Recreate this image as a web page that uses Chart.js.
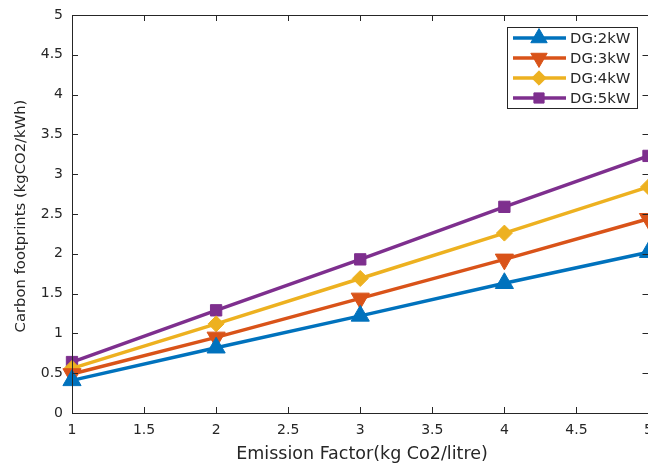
<!DOCTYPE html>
<html>
<head>
<meta charset="utf-8">
<title>Carbon footprints vs emission factor</title>
<script src="https://cdn.jsdelivr.net/npm/chart.js@4.4.0/dist/chart.umd.min.js"></script>
<style>
  html, body { margin: 0; padding: 0; background: #fff; overflow: hidden; }
  #wrap { position: relative; width: 660px; height: 463px; }
</style>
</head>
<body>
<div id="wrap"><canvas id="chart"></canvas></div>
<script>
// Data
const emissionFactor = [1, 2, 3, 4, 5];
const dg2kW = [0.41, 0.82, 1.22, 1.63, 2.02];
const dg3kW = [0.49, 0.95, 1.44, 1.93, 2.44];
const dg4kW = [0.56, 1.12, 1.69, 2.26, 2.84];
const dg5kW = [0.64, 1.29, 1.93, 2.59, 3.23];

const seriesNames = ['DG:2kW', 'DG:3kW', 'DG:4kW', 'DG:5kW'];
const seriesValues = [dg2kW, dg3kW, dg4kW, dg5kW];
const seriesColors = ['#0072BD', '#D95319', '#EDB120', '#7E2F8E'];
const seriesMarkers = ['triangle', 'triangle', 'rectRot', 'rect'];
const markerRotation = [0, 180, 0, 0];
const markerRadius = [10.5, 10.5, 8, 8];

const xTitle = 'Emission Factor(kg Co2/litre)';
const yTitle = 'Carbon footprints (kgCO2/kWh)';
const axisColor = '#262626';
const fontFamily = '"DejaVu Sans", "Liberation Sans", Arial, sans-serif';

// build datasets from the arrays
const datasets = seriesNames.map(function(name, i) {
    return {
        label: name,
        data: emissionFactor.map(function(x, j) { return { x: x, y: seriesValues[i][j] }; }),
        borderColor: seriesColors[i],
        backgroundColor: seriesColors[i],
        borderWidth: 3.5,
        pointStyle: seriesMarkers[i],
        pointRotation: markerRotation[i],
        pointRadius: markerRadius[i],
        pointBorderWidth: 1,
        pointHoverRadius: markerRadius[i],
        tension: 0,
        clip: false
    };
});

// MATLAB style box with inward ticks, axis titles and legend
const matlabFrame = {
    id: 'matlabFrame',
    afterDraw: function(chart) {
        const ctx = chart.ctx;
        const area = chart.chartArea;
        const xs = chart.scales.x;
        const ys = chart.scales.y;
        const tick = 6;

        ctx.save();
        ctx.strokeStyle = axisColor;
        ctx.lineWidth = 1;
        ctx.beginPath();
        ctx.rect(Math.round(area.left) + 0.5, Math.round(area.top) + 0.5,
                 Math.round(area.right - area.left), Math.round(area.bottom - area.top));
        xs.ticks.forEach(function(t) {
            const px = Math.round(xs.getPixelForValue(t.value)) + 0.5;
            ctx.moveTo(px, area.bottom);
            ctx.lineTo(px, area.bottom - tick);
            ctx.moveTo(px, area.top);
            ctx.lineTo(px, area.top + tick);
        });
        ys.ticks.forEach(function(t) {
            const py = Math.round(ys.getPixelForValue(t.value)) + 0.5;
            ctx.moveTo(area.left, py);
            ctx.lineTo(area.left + tick, py);
            ctx.moveTo(area.right, py);
            ctx.lineTo(area.right - tick, py);
        });
        ctx.stroke();

        // axis titles
        ctx.fillStyle = axisColor;
        ctx.textAlign = 'center';
        ctx.textBaseline = 'middle';
        ctx.font = '17.5px ' + fontFamily;
        ctx.fillText(xTitle, 362, 454);
        ctx.font = '14.8px ' + fontFamily;
        ctx.save();
        ctx.translate(21, 216);
        ctx.rotate(-Math.PI / 2);
        ctx.fillText(yTitle, 0, 0);
        ctx.restore();

        // legend box
        const lx = 507, ly = 27, lw = 130, lh = 81;
        ctx.fillStyle = '#ffffff';
        ctx.fillRect(lx, ly, lw, lh);
        ctx.strokeStyle = '#262626';
        ctx.strokeRect(lx + 0.5, ly + 0.5, lw, lh);
        ctx.font = '14.8px ' + fontFamily;
        ctx.textAlign = 'left';
        chart.data.datasets.forEach(function(ds, i) {
            const y = ly + 11 + i * 20;
            ctx.strokeStyle = ds.borderColor;
            ctx.lineWidth = 3.5;
            ctx.beginPath();
            ctx.moveTo(lx + 6, y);
            ctx.lineTo(lx + 59, y);
            ctx.stroke();
            ctx.fillStyle = ds.backgroundColor;
            ctx.lineWidth = 1;
            Chart.helpers.drawPoint(ctx, {
                pointStyle: ds.pointStyle,
                rotation: ds.pointRotation,
                radius: ds.pointRadius * 0.9,
                borderWidth: 1
            }, lx + 32, y);
            ctx.fillStyle = axisColor;
            ctx.fillText(ds.label, lx + 63, y + 1);
        });
        ctx.restore();
    }
};

const ctx = document.getElementById('chart').getContext('2d');
new Chart(ctx, {
    type: 'line',
    data: { datasets: datasets },
    options: {
        responsive: true,
        maintainAspectRatio: false,
        animation: false,
        devicePixelRatio: 1,
        layout: { padding: { left: 0, top: 15, right: 10, bottom: 0 } },
        plugins: {
            legend: { display: false },
            tooltip: { enabled: false }
        },
        scales: {
            x: {
                type: 'linear',
                min: 1,
                max: 5,
                grid: { display: false, drawTicks: false },
                border: { display: false },
                ticks: {
                    stepSize: 0.5,
                    color: axisColor,
                    font: { family: fontFamily, size: 14 },
                    padding: 9,
                    maxRotation: 0,
                    callback: function(v) { return String(v); }
                },
                afterFit: function(scale) {
                    scale.height = 50;
                    scale.paddingLeft = 0;
                    scale.paddingRight = 0;
                }
            },
            y: {
                min: 0,
                max: 5,
                grid: { display: false, drawTicks: false },
                border: { display: false },
                ticks: {
                    stepSize: 0.5,
                    color: axisColor,
                    font: { family: fontFamily, size: 14 },
                    padding: 9,
                    callback: function(v) { return String(v); }
                },
                afterFit: function(scale) {
                    scale.width = 72;
                    scale.paddingTop = 0;
                    scale.paddingBottom = 0;
                }
            }
        }
    },
    plugins: [matlabFrame]
});
</script>
</body>
</html>
